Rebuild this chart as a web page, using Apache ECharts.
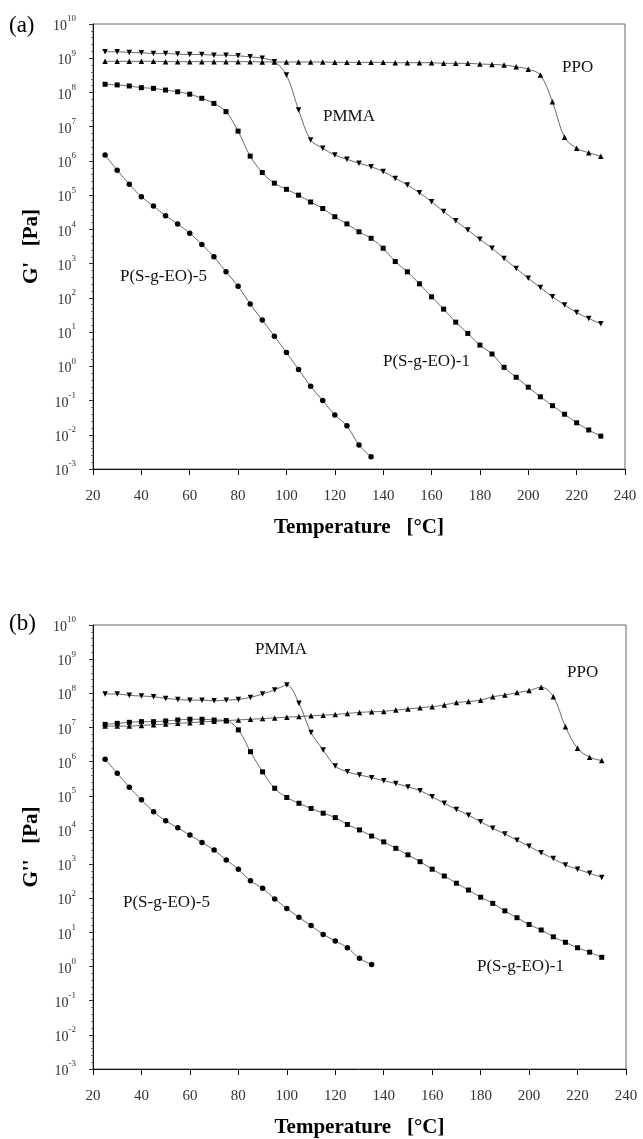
<!DOCTYPE html>
<html>
<head>
<meta charset="utf-8">
<script src="https://cdn.jsdelivr.net/npm/echarts@6/dist/echarts.min.js"></script>
<style>
  html, body { margin: 0; padding: 0; background: #fff; }
  #chart { width: 643px; height: 1139px; }
</style>
</head>
<body>
<div id="chart"></div>
<script>
// Temperatures (°C)
const temps = [25,30,35,40,45,50,55,60,65,70,75,80,85,90,95,100,105,110,115,120,125,130,135,140,145,150,155,160,165,170,175,180,185,190,195,200,205,210,215,220,225,230];
const tempsShort = [25,30,35,40,45,50,55,60,65,70,75,80,85,90,95,100,105,110,115,120,125,130,135];

// Panel (a): log10 of G' [Pa]
const ppoGp = [8.91,8.91,8.91,8.91,8.91,8.90,8.90,8.90,8.90,8.90,8.90,8.90,8.90,8.89,8.89,8.89,8.89,8.89,8.89,8.88,8.88,8.88,8.88,8.88,8.87,8.87,8.87,8.87,8.85,8.85,8.85,8.83,8.82,8.80,8.75,8.68,8.51,7.73,6.69,6.37,6.24,6.14];
const pmmaGp = [9.19,9.19,9.17,9.16,9.14,9.14,9.12,9.11,9.11,9.09,9.09,9.07,9.04,9.00,8.90,8.51,7.49,6.61,6.37,6.17,6.05,5.93,5.83,5.69,5.49,5.30,5.07,4.81,4.52,4.25,3.98,3.71,3.45,3.15,2.86,2.57,2.30,2.03,1.79,1.57,1.40,1.24];
const peo1Gp = [8.24,8.22,8.19,8.14,8.12,8.07,8.02,7.95,7.83,7.68,7.44,6.87,6.14,5.66,5.35,5.17,5.00,4.80,4.61,4.37,4.16,3.93,3.74,3.45,3.06,2.76,2.41,2.03,1.67,1.29,0.96,0.62,0.36,-0.03,-0.32,-0.61,-0.89,-1.15,-1.40,-1.65,-1.86,-2.04];
const peo5Gp = [6.17,5.73,5.32,4.95,4.68,4.40,4.16,3.89,3.56,3.20,2.76,2.34,1.82,1.35,0.88,0.40,-0.09,-0.58,-1.00,-1.42,-1.74,-2.30,-2.64];

// Panel (b): log10 of G'' [Pa]
const ppoGpp = [7.04,7.04,7.04,7.06,7.08,7.10,7.12,7.14,7.16,7.18,7.20,7.22,7.24,7.26,7.28,7.30,7.32,7.34,7.36,7.38,7.41,7.44,7.46,7.47,7.51,7.54,7.58,7.61,7.66,7.73,7.76,7.80,7.90,7.95,8.02,8.08,8.18,7.90,7.02,6.39,6.13,6.03];
const pmmaGpp = [7.98,7.98,7.94,7.92,7.90,7.85,7.82,7.80,7.80,7.78,7.80,7.82,7.88,7.98,8.10,8.24,7.71,6.85,6.34,5.87,5.70,5.61,5.53,5.44,5.36,5.26,5.15,4.97,4.78,4.60,4.43,4.24,4.05,3.88,3.70,3.52,3.33,3.16,2.97,2.85,2.73,2.61];
const peo1Gpp = [7.09,7.12,7.15,7.17,7.17,7.19,7.22,7.24,7.24,7.22,7.20,6.93,6.29,5.70,5.22,4.95,4.78,4.63,4.49,4.36,4.16,4.00,3.82,3.65,3.46,3.27,3.07,2.85,2.65,2.44,2.24,2.03,1.85,1.63,1.43,1.23,1.07,0.87,0.71,0.55,0.42,0.27];
const peo5Gpp = [6.07,5.66,5.25,4.88,4.53,4.27,4.06,3.85,3.63,3.41,3.12,2.85,2.51,2.29,1.98,1.70,1.44,1.20,0.94,0.75,0.55,0.24,0.06];

// Tick labels
const xTicks = [20,40,60,80,100,120,140,160,180,200,220,240];
const yExponents = [-3,-2,-1,0,1,2,3,4,5,6,7,8,9,10];

const serif = '"Liberation Serif", "DejaVu Serif", serif';
const chart = echarts.init(document.getElementById('chart'), null, {renderer: 'canvas'});

function xAxisCfg(gi) {
  return {
    gridIndex: gi, type: 'value', min: 20, max: 240, interval: 20,
    axisLine: {show: true, onZero: false, lineStyle: {color: '#111', width: 1}},
    axisTick: {show: true, inside: false, length: 6, lineStyle: {color: '#111'}},
    splitLine: {show: false},
    axisLabel: {fontFamily: serif, fontSize: 15, color: '#333', margin: 20,
      formatter: v => xTicks.includes(v) ? String(v) : ''},
    name: 'Temperature   [°C]', nameLocation: 'middle', nameGap: 48,
    nameTextStyle: {fontFamily: serif, fontSize: 21, fontWeight: 'bold', color: '#000'}
  };
}
function yAxisCfg(gi, name) {
  return {
    gridIndex: gi, type: 'value', min: -3, max: 10, interval: 1,
    axisLine: {show: true, onZero: false, lineStyle: {color: '#111', width: 1}},
    axisTick: {show: true, inside: false, length: 4, lineStyle: {color: '#333'}},
    minorTick: {show: true, splitNumber: 5, length: 2, lineStyle: {color: '#777'}},
    splitLine: {show: false},
    axisLabel: {
      margin: 17, color: '#333',
      formatter: v => yExponents.includes(v) ? '{b|10}{s|' + v + '}' : '',
      rich: {
        b: {fontFamily: serif, fontSize: 14, color: '#333', padding: [5, 0, 0, 0]},
        s: {fontFamily: serif, fontSize: 9, color: '#333', verticalAlign: 'top'}
      }
    },
    name: name, nameLocation: 'middle', nameGap: 44, nameRotate: 90,
    nameTextStyle: {fontFamily: serif, fontSize: 21, fontWeight: 'bold', color: '#000'}
  };
}

function line(gi, name, xs, ys, symbol, rotate) {
  return {
    name: name, type: 'line', xAxisIndex: gi, yAxisIndex: gi,
    data: xs.map((t, i) => [t, ys[i]]),
    symbol: symbol, symbolSize: symbol === 'rect' ? 5 : 5.5, symbolRotate: rotate || 0,
    smooth: 0.35,
    lineStyle: {color: '#444', width: 0.8},
    itemStyle: {color: '#000', borderWidth: 0},
    emphasis: {disabled: true}, silent: true, animation: false
  };
}

chart.setOption({
  animation: false,
  backgroundColor: '#fff',
  grid: [
    {left: 93, top: 24, width: 532, height: 445, show: true, borderColor: '#666', borderWidth: 1, backgroundColor: 'transparent'},
    {left: 93, top: 625, width: 533, height: 444, show: true, borderColor: '#666', borderWidth: 1, backgroundColor: 'transparent'}
  ],
  xAxis: [xAxisCfg(0), xAxisCfg(1)],
  yAxis: [yAxisCfg(0, "G'   [Pa]"), yAxisCfg(1, "G''   [Pa]")],
  series: [
    line(0, 'PPO', temps, ppoGp, 'triangle', 0),
    line(0, 'PMMA', temps, pmmaGp, 'triangle', 180),
    line(0, 'P(S-g-EO)-1', temps, peo1Gp, 'rect', 0),
    line(0, 'P(S-g-EO)-5', tempsShort, peo5Gp, 'circle', 0),
    line(1, 'PPO', temps, ppoGpp, 'triangle', 0),
    line(1, 'PMMA', temps, pmmaGpp, 'triangle', 180),
    line(1, 'P(S-g-EO)-1', temps, peo1Gpp, 'rect', 0),
    line(1, 'P(S-g-EO)-5', tempsShort, peo5Gpp, 'circle', 0)
  ],
  graphic: [
    {type: 'text', left: 9, top: 14, style: {text: '(a)', fontFamily: serif, fontSize: 23, fill: '#000'}},
    {type: 'text', left: 9, top: 612, style: {text: '(b)', fontFamily: serif, fontSize: 23, fill: '#000'}},
    {type: 'text', left: 323, top: 108, style: {text: 'PMMA', fontFamily: serif, fontSize: 17, fill: '#111'}},
    {type: 'text', left: 562, top: 59, style: {text: 'PPO', fontFamily: serif, fontSize: 17, fill: '#111'}},
    {type: 'text', left: 120, top: 268, style: {text: 'P(S-g-EO)-5', fontFamily: serif, fontSize: 17, fill: '#111'}},
    {type: 'text', left: 383, top: 353, style: {text: 'P(S-g-EO)-1', fontFamily: serif, fontSize: 17, fill: '#111'}},
    {type: 'text', left: 255, top: 641, style: {text: 'PMMA', fontFamily: serif, fontSize: 17, fill: '#111'}},
    {type: 'text', left: 567, top: 664, style: {text: 'PPO', fontFamily: serif, fontSize: 17, fill: '#111'}},
    {type: 'text', left: 123, top: 894, style: {text: 'P(S-g-EO)-5', fontFamily: serif, fontSize: 17, fill: '#111'}},
    {type: 'text', left: 477, top: 958, style: {text: 'P(S-g-EO)-1', fontFamily: serif, fontSize: 17, fill: '#111'}}
  ]
});
</script>
</body>
</html>
